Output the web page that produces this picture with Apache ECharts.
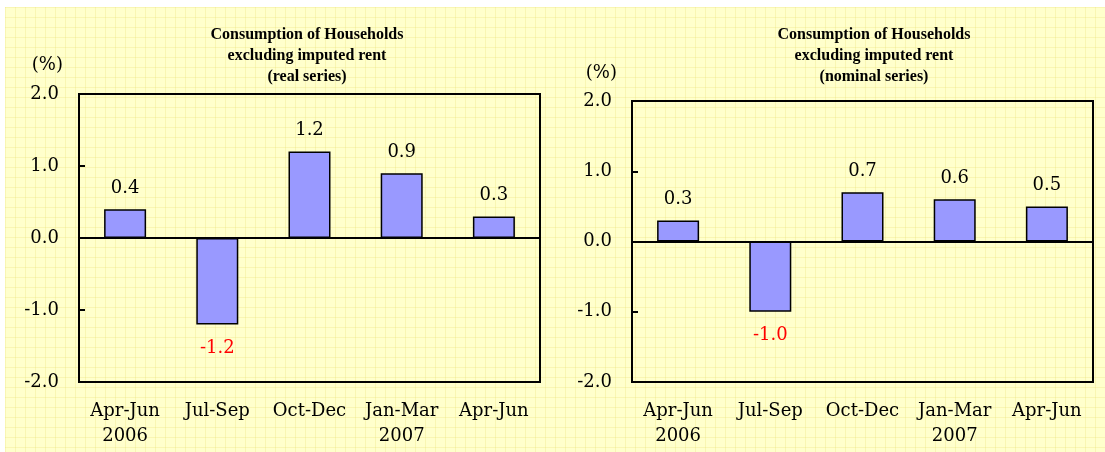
<!DOCTYPE html>
<html>
<head>
<meta charset="utf-8">
<script src="https://cdn.jsdelivr.net/npm/echarts@6/dist/echarts.min.js"></script>
<style>
  html, body { margin: 0; padding: 0; background: #fff; }
  #bg {
    position: absolute; left: 5px; top: 7px; width: 1100px; height: 445px;
    background-color: #ffffcc;
    background-image:
      linear-gradient(to right, rgba(235, 225, 120, 0.3) 1px, transparent 1px),
      linear-gradient(to bottom, rgba(235, 225, 120, 0.3) 1px, transparent 1px);
    background-size: 10px 10px;
  }
  #main { position: absolute; left: 0; top: 0; width: 1105px; height: 452px; }
</style>
</head>
<body>
<div id="bg"></div>
<div id="main"></div>
<script>
// quarters and year row
var quarters = ['Apr-Jun', 'Jul-Sep', 'Oct-Dec', 'Jan-Mar', 'Apr-Jun'];
var years = ['2006', '', '', '2007', ''];
// q/q change, %
var realValues = [0.4, -1.2, 1.2, 0.9, 0.3];
var nominalValues = [0.3, -1.0, 0.7, 0.6, 0.5];
var yTicks = [-2, -1, 0, 1, 2];

var titleReal = 'Consumption of Households\nexcluding imputed rent\n(real series)';
var titleNominal = 'Consumption of Households\nexcluding imputed rent\n(nominal series)';

var font = '"DejaVu Serif", "Liberation Serif", serif';

var categories = quarters.map(function (q, i) {
  return years[i] ? q + '\n' + years[i] : q;
});

function barData(values) {
  return values.map(function (v) {
    return {
      value: v,
      label: {
        position: v < 0 ? 'bottom' : 'top',
        distance: v < 0 ? 15 : 12,
        color: v < 0 ? '#ff0000' : '#000'
      }
    };
  });
}

function xLabelAxis(gridIndex) {
  return {
    type: 'category', gridIndex: gridIndex, data: categories,
    position: 'bottom',
    axisLine: { onZero: false, show: false },
    axisTick: { show: false },
    axisLabel: { interval: 0, hideOverlap: false, color: '#000', fontFamily: font, fontSize: 18, margin: 17, lineHeight: 25 }
  };
}

function xZeroAxis(gridIndex) {
  return {
    type: 'category', gridIndex: gridIndex, data: categories,
    position: 'bottom',
    axisLine: { onZero: true, lineStyle: { color: '#000', width: 2 } },
    axisTick: { inside: true, length: 7, lineStyle: { color: '#000', width: 2 } },
    axisLabel: { show: false }
  };
}

function yAxis(gridIndex, padRight, gap) {
  return {
    type: 'value', gridIndex: gridIndex, min: yTicks[0], max: yTicks[yTicks.length - 1], interval: 1,
    name: '(%)', nameLocation: 'end', nameGap: gap,
    nameTextStyle: { color: '#000', fontFamily: font, fontSize: 18, align: 'right', padding: [0, padRight, 0, 0] },
    axisLine: { show: true, lineStyle: { color: '#000', width: 2 } },
    axisTick: { show: true, inside: true, length: 6, lineStyle: { color: '#000', width: 2 } },
    splitLine: { show: false },
    axisLabel: {
      color: '#000', fontFamily: font, fontSize: 18, margin: 20,
      formatter: function (v) { return v.toFixed(1); }
    }
  };
}

function barSeries(idx, values) {
  return {
    type: 'bar', xAxisIndex: idx * 2, yAxisIndex: idx,
    data: barData(values), barWidth: 42,
    itemStyle: { color: '#9999ff', borderColor: '#000', borderWidth: 1.5 },
    label: {
      show: true, fontFamily: font, fontSize: 18,
      formatter: function (p) { return p.value.toFixed(1); }
    }
  };
}

var titleStyle = { fontFamily: '"Liberation Serif", serif', fontWeight: 'bold', fontSize: 16, lineHeight: 21, color: '#000' };

var myChart = echarts.init(document.getElementById('main'));
var option = {
  backgroundColor: 'transparent',
  animation: false,
  title: [
    { text: titleReal, left: 302, top: 19, textAlign: 'center', textStyle: titleStyle },
    { text: titleNominal, left: 869, top: 19, textAlign: 'center', textStyle: titleStyle }
  ],
  grid: [
    { left: 79, right: 565, top: 94, bottom: 70, show: true, borderColor: '#000', borderWidth: 2, backgroundColor: 'transparent' },
    { left: 632, right: 12, top: 101, bottom: 70, show: true, borderColor: '#000', borderWidth: 2, backgroundColor: 'transparent' }
  ],
  xAxis: [xLabelAxis(0), xZeroAxis(0), xLabelAxis(1), xZeroAxis(1)],
  yAxis: [yAxis(0, 16, 20), yAxis(1, 15, 19)],
  series: [barSeries(0, realValues), barSeries(1, nominalValues)]
};
myChart.setOption(option);
</script>
</body>
</html>
